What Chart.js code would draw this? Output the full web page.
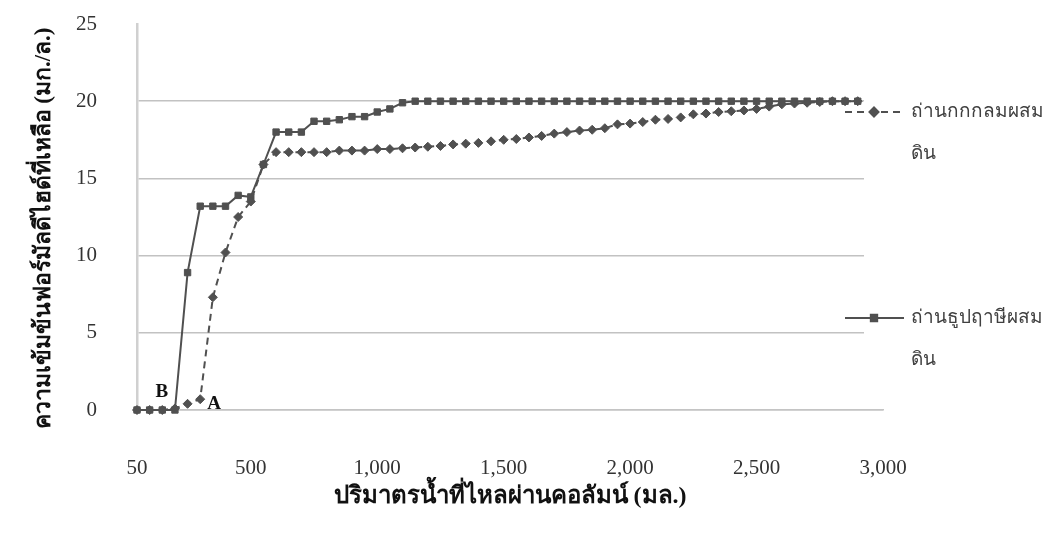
<!DOCTYPE html>
<html>
<head>
<meta charset="utf-8">
<script src="https://cdn.jsdelivr.net/npm/chart.js@4"></script>
<style>
  html, body { margin: 0; padding: 0; background: #fff; }
  #wrap { width: 1050px; height: 534px; }
</style>
</head>
<body>
<div id="wrap"><canvas id="chart" width="1050" height="534"></canvas></div>
<script>
// volume passed through the column (mL), one category per reading
const volumes = [50, 100, 150, 200, 250, 300, 350, 400, 450, 500,
  550, 600, 650, 700, 750, 800, 850, 900, 950, 1000,
  1050, 1100, 1150, 1200, 1250, 1300, 1350, 1400, 1450, 1500,
  1550, 1600, 1650, 1700, 1750, 1800, 1850, 1900, 1950, 2000,
  2050, 2100, 2150, 2200, 2250, 2300, 2350, 2400, 2450, 2500,
  2550, 2600, 2650, 2700, 2750, 2800, 2850, 2900, 2950, 3000];
const shownTicks = [50, 500, 1000, 1500, 2000, 2500, 3000];
const yTicks = [0, 5, 10, 15, 20, 25];

// remaining formaldehyde (mg/L)
const sedgeSoil = [0, 0, 0, 0.1, 0.4, 0.7, 7.3, 10.2, 12.5, 13.5,
  15.9, 16.7, 16.7, 16.7, 16.7, 16.7, 16.8, 16.8, 16.8, 16.9,
  16.9, 16.95, 17.0, 17.05, 17.1, 17.2, 17.25, 17.3, 17.4, 17.5,
  17.55, 17.65, 17.75, 17.9, 18.0, 18.1, 18.15, 18.25, 18.5, 18.55,
  18.65, 18.8, 18.85, 18.95, 19.15, 19.2, 19.3, 19.35, 19.4, 19.5,
  19.65, 19.8, 19.85, 19.9, 19.95, 20.0, 20.0, 20.0];
const cattailSoil = [0, 0, 0, 0, 8.9, 13.2, 13.2, 13.2, 13.9, 13.8,
  15.9, 18.0, 18.0, 18.0, 18.7, 18.7, 18.8, 19.0, 19.0, 19.3,
  19.5, 19.9, 20, 20, 20, 20, 20, 20, 20, 20,
  20, 20, 20, 20, 20, 20, 20, 20, 20, 20,
  20, 20, 20, 20, 20, 20, 20, 20, 20, 20,
  20, 20, 20, 20, 20, 20, 20, 20];

const seriesNames = [['ถ่านกกกลมผสม', 'ดิน'], ['ถ่านธูปฤาษีผสม', 'ดิน']];
const xTitle = 'ปริมาตรน้ำที่ไหลผ่านคอลัมน์ (มล.)';
// trailing spaces nudge the rotated title a little lower, like the original
const yTitle = 'ความเข้มข้นฟอร์มัลดีไฮด์ที่เหลือ (มก./ล.)    ';

const ink = '#505050';
const serif = '"Liberation Serif", "Times New Roman", serif';
const thaiSans = '"Noto Sans", "DejaVu Sans", sans-serif';

// hide the gridlines where the legend box sits
const gridMask = {
  id: 'gridMask',
  beforeDatasetsDraw(chart) {
    const a = chart.chartArea;
    const ctx = chart.ctx;
    ctx.save();
    ctx.fillStyle = '#fff';
    ctx.fillRect(864, a.top - 2, a.right - 864 + 4, a.bottom - a.top);
    ctx.restore();
  }
};

// the A / B breakthrough notes
const notes = {
  id: 'notes',
  afterDatasetsDraw(chart) {
    const ctx = chart.ctx;
    const b = chart.getDatasetMeta(1).data[3];
    const a = chart.getDatasetMeta(0).data[5];
    ctx.save();
    ctx.font = 'bold 19px ' + serif;
    ctx.fillStyle = '#111';
    ctx.textAlign = 'center';
    ctx.textBaseline = 'middle';
    ctx.fillText('B', b.x - 13, b.y - 18);
    ctx.fillText('A', a.x + 14, a.y + 5);
    ctx.restore();
  }
};

const sideLegend = {
  id: 'sideLegend',
  afterDraw(chart) {
    const ctx = chart.ctx;
    const rows = [112, 318];
    chart.data.datasets.forEach((ds, i) => {
      const y = rows[i];
      ctx.save();
      ctx.strokeStyle = ds.borderColor;
      ctx.lineWidth = ds.borderWidth;
      ctx.setLineDash(ds.borderDash || []);
      ctx.beginPath();
      ctx.moveTo(845, y);
      ctx.lineTo(904, y);
      ctx.stroke();
      ctx.setLineDash([]);
      Chart.helpers.drawPoint(ctx, {
        pointStyle: ds.pointStyle, radius: ds.pointRadius, borderWidth: 1
      }, 874, y);
      ctx.fillStyle = ds.pointBackgroundColor;
      ctx.fill();
      ctx.font = '19px ' + thaiSans;
      ctx.fillStyle = '#404040';
      ctx.textAlign = 'left';
      ctx.textBaseline = 'middle';
      seriesNames[i].forEach((t, k) => ctx.fillText(t, 911, y + k * 42));
      ctx.restore();
    });
  }
};

new Chart(document.getElementById('chart'), {
  type: 'line',
  data: {
    labels: volumes,
    datasets: [
      {
        label: seriesNames[0].join(''),
        data: sedgeSoil,
        borderColor: ink,
        borderWidth: 2,
        borderDash: [7, 5],
        pointStyle: 'rectRot',
        pointRadius: 4.5,
        pointBackgroundColor: ink,
        pointBorderColor: ink,
        pointBorderWidth: 1,
        tension: 0,
        clip: false
      },
      {
        label: seriesNames[1].join(''),
        data: cattailSoil,
        borderColor: ink,
        borderWidth: 2,
        pointStyle: 'rect',
        pointRadius: 4.5,
        pointBackgroundColor: ink,
        pointBorderColor: ink,
        pointBorderWidth: 1,
        tension: 0,
        clip: false
      }
    ]
  },
  options: {
    responsive: false,
    animation: false,
    devicePixelRatio: 1,
    layout: { padding: { top: 24, right: 167, bottom: 0, left: 0 } },
    plugins: {
      legend: { display: false },
      tooltip: { enabled: false }
    },
    scales: {
      x: {
        offset: false,
        afterFit: s => { s.height = 124; },
        grid: { display: false, drawTicks: false },
        border: { color: '#c4c4c4', width: 1.5 },
        ticks: {
          autoSkip: false,
          maxRotation: 0,
          padding: 46,
          color: '#333',
          font: { family: serif, size: 21 },
          callback: (v, i) => shownTicks.includes(volumes[i]) ? volumes[i].toLocaleString('en-US') : null
        },
        title: {
          display: true,
          text: xTitle,
          color: '#111',
          font: { family: serif, size: 24, weight: 'bold' },
          padding: { top: 0, bottom: 23 }
        }
      },
      y: {
        min: 0,
        max: 25,
        afterFit: s => {
          s.width = 137;
          // keep the large label gap from pushing the plot down
          s.paddingTop = 0;
          s.paddingBottom = 0;
        },
        afterBuildTicks: s => { s.ticks = yTicks.map(v => ({ value: v })); },
        grid: {
          drawTicks: false,
          color: c => c.tick && c.tick.value === 25 ? 'rgba(0,0,0,0)' : '#c2c2c2',
          lineWidth: 1.5
        },
        border: { color: '#d0d0d0', width: 2.5 },
        ticks: {
          padding: 40,
          color: '#333',
          font: { family: serif, size: 21 }
        },
        title: {
          display: true,
          text: yTitle,
          color: '#111',
          font: { family: serif, size: 23, weight: 'bold' },
          padding: { top: 30, bottom: 0 }
        }
      }
    }
  },
  plugins: [gridMask, notes, sideLegend]
});
</script>
</body>
</html>
